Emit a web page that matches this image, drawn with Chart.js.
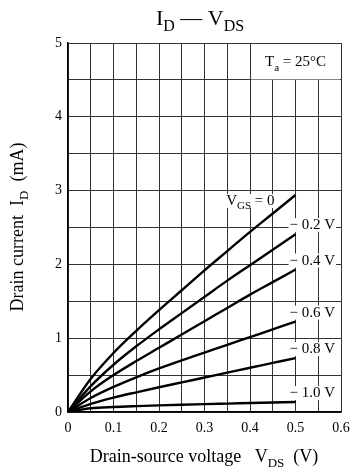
<!DOCTYPE html>
<html>
<head>
<meta charset="utf-8">
<script src="https://cdn.jsdelivr.net/npm/chart.js@4"></script>
<style>
  html, body { margin: 0; padding: 0; background: #fff; }
  #wrap { width: 350px; height: 472px; }
</style>
</head>
<body>
<div id="wrap"><canvas id="c" width="350" height="472"></canvas></div>
<script>
// V_DS (V) sample points
const vds = [0, 0.05, 0.1, 0.15, 0.2, 0.25, 0.3, 0.35, 0.4, 0.45, 0.5];
// I_D (mA) for each V_GS
const id0   = [0, 0.45, 0.80, 1.10, 1.38, 1.65, 1.92, 2.18, 2.44, 2.69, 2.94];
const idM02 = [0, 0.35, 0.64, 0.89, 1.12, 1.34, 1.56, 1.78, 1.99, 2.20, 2.41];
const idM04 = [0, 0.28, 0.50, 0.69, 0.87, 1.05, 1.23, 1.41, 1.59, 1.76, 1.93];
const idM06 = [0, 0.19, 0.34, 0.47, 0.59, 0.70, 0.805, 0.91, 1.015, 1.12, 1.225];
const idM08 = [0, 0.11, 0.195, 0.267, 0.335, 0.401, 0.467, 0.533, 0.599, 0.665, 0.731];
const idM10 = [0, 0.05, 0.068, 0.08, 0.09, 0.099, 0.107, 0.114, 0.121, 0.128, 0.135];
const seriesLabels = ['0', '− 0.2 V', '− 0.4 V', '− 0.6 V', '− 0.8 V', '− 1.0 V'];
const xTicks = [0, 0.1, 0.2, 0.3, 0.4, 0.5, 0.6];
const yTicks = [0, 1, 2, 3, 4, 5];

const SERIF = '"Liberation Serif", "Times New Roman", serif';

function measureParts(ctx, parts, size) {
  const sub = Math.round(size * 0.72);
  let w = 0;
  parts.forEach(p => {
    ctx.font = (p.sub ? sub : size) + 'px ' + SERIF;
    w += ctx.measureText(p.t).width;
  });
  return w;
}

function drawParts(ctx, x, y, parts, size, align) {
  const sub = Math.round(size * 0.72);
  const w = measureParts(ctx, parts, size);
  let cx = align === 'center' ? x - w / 2 : align === 'right' ? x - w : x;
  ctx.textAlign = 'left';
  ctx.textBaseline = 'alphabetic';
  parts.forEach(p => {
    ctx.font = (p.sub ? sub : size) + 'px ' + SERIF;
    ctx.fillText(p.t, cx, p.sub ? y + size * 0.28 : y);
    cx += ctx.measureText(p.t).width;
  });
  return w;
}

const allSeries = [id0, idM02, idM04, idM06, idM08, idM10];
const LBL = 15;
const vgsParts = [{t: 'V'}, {t: 'GS', sub: true}, {t: ' = ' + seriesLabels[0]}];

const annot = {
  id: 'annot',
  beforeDatasetsDraw(chart) {
    const ctx = chart.ctx, xs = chart.scales.x, ys = chart.scales.y;
    ctx.save();
    ctx.fillStyle = '#fff';
    // Ta box
    ctx.fillRect(xs.getPixelForValue(0.4) + 1, ys.getPixelForValue(5) + 1,
      xs.getPixelForValue(0.6) - xs.getPixelForValue(0.4) - 2,
      ys.getPixelForValue(4.5) - ys.getPixelForValue(5) - 1.5);
    // right labels background
    const ex = xs.getPixelForValue(0.5);
    for (let i = 1; i < allSeries.length; i++) {
      const ey = ys.getPixelForValue(allSeries[i][allSeries[i].length - 1]);
      const w = measureParts(ctx, [{t: seriesLabels[i]}], LBL);
      ctx.fillRect(ex - 7, ey - 16, w + 2, 14);
    }
    // V_GS = 0 background
    const ey0 = ys.getPixelForValue(id0[id0.length - 1]);
    const w0 = measureParts(ctx, vgsParts, LBL);
    ctx.fillRect(ex - 21 - w0 - 1, ey0 - 1, w0 + 2, 14);
    ctx.restore();
  },
  afterDraw(chart) {
    const ctx = chart.ctx, xs = chart.scales.x, ys = chart.scales.y;
    ctx.save();
    ctx.fillStyle = '#000';
    // title
    drawParts(ctx, 200, 25, [{t: 'I'}, {t: 'D', sub: true}, {t: ' — V'}, {t: 'DS', sub: true}], 22, 'center');
    // x title
    drawParts(ctx, 204, 462,
      [{t: 'Drain-source voltage   V'}, {t: 'DS', sub: true}, {t: '  (V)'}], 18, 'center');
    // y title
    ctx.save();
    ctx.translate(23, 227);
    ctx.rotate(-Math.PI / 2);
    drawParts(ctx, 0, 0, [{t: 'Drain current  I'}, {t: 'D', sub: true}, {t: '  (mA)'}], 18, 'center');
    ctx.restore();
    // Ta
    drawParts(ctx, xs.getPixelForValue(0.5), ys.getPixelForValue(4.75) + 5,
      [{t: 'T'}, {t: 'a', sub: true}, {t: ' = 25°C'}], LBL, 'center');
    // series labels
    const ex = xs.getPixelForValue(0.5);
    const ey0 = ys.getPixelForValue(id0[id0.length - 1]);
    drawParts(ctx, ex - 21, ey0 + 10, vgsParts, LBL, 'right');
    for (let i = 1; i < allSeries.length; i++) {
      const ey = ys.getPixelForValue(allSeries[i][allSeries[i].length - 1]);
      drawParts(ctx, ex - 6, ey - 5, [{t: seriesLabels[i]}], LBL, 'left');
    }
    ctx.restore();
  }
};

const mk = (arr, lbl) => ({
  label: lbl,
  data: vds.map((v, i) => ({x: v, y: arr[i]})),
  borderColor: '#000',
  borderWidth: 2.4,
  pointRadius: 0,
  cubicInterpolationMode: 'monotone',
  fill: false
});

new Chart(document.getElementById('c'), {
  type: 'line',
  data: {
    datasets: allSeries.map((s, i) => mk(s, seriesLabels[i]))
  },
  options: {
    responsive: false,
    animation: false,
    devicePixelRatio: 1,
    layout: { padding: { top: 43, right: 9, left: 0, bottom: 0 } },
    plugins: { legend: { display: false }, tooltip: { enabled: false } },
    scales: {
      x: {
        type: 'linear', min: 0, max: 0.6,
        afterFit: s => { s.height = 60; s.paddingLeft = 0; s.paddingRight = 0; },
        afterBuildTicks: s => { s.ticks = []; for (let k = 0; k <= 12; k++) s.ticks.push({value: k * 0.05}); },
        grid: { color: '#333', lineWidth: 1, drawTicks: false },
        border: { color: '#000', width: 1.5 },
        ticks: {
          color: '#000', padding: 8, maxRotation: 0, autoSkip: false,
          font: { family: SERIF, size: 14 },
          callback: v => { const r = Math.round(v * 100); return r % 10 === 0 ? xTicks[r / 10] : ''; }
        }
      },
      y: {
        type: 'linear', min: 0, max: 5,
        afterFit: s => { s.width = 68; s.paddingTop = 0; s.paddingBottom = 0; },
        afterBuildTicks: s => { s.ticks = []; for (let k = 0; k <= 10; k++) s.ticks.push({value: k * 0.5}); },
        grid: { color: '#333', lineWidth: 1, drawTicks: false },
        border: { color: '#000', width: 1.5 },
        ticks: {
          color: '#000', padding: 6, autoSkip: false,
          font: { family: SERIF, size: 14 },
          callback: v => (Math.round(v * 2) % 2 === 0 ? yTicks[Math.round(v)] : '')
        }
      }
    }
  },
  plugins: [annot]
});
</script>
</body>
</html>
